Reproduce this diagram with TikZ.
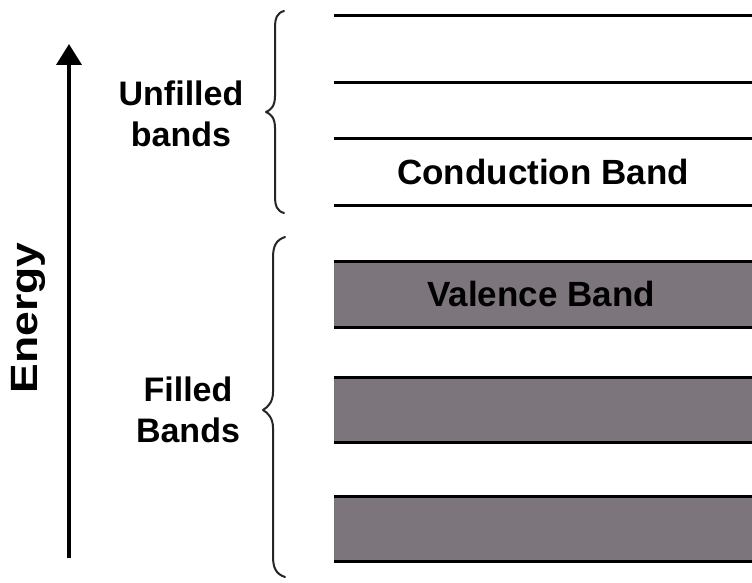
\documentclass[tikz,border=0pt]{standalone}
\usepackage{fontspec}
\setmainfont{Liberation Sans}
\usetikzlibrary{arrows.meta}
\definecolor{bandgray}{RGB}{124,117,124}
\tikzset{
  level/.style={line width=3pt, black},
  filledband/.style={fill=bandgray, draw=none},
  bandedge/.style={line width=3pt, black},
  sidelabel/.style={font=\bfseries\fontsize{34}{41}\selectfont, align=center, inner sep=0pt},
  bandlabel/.style={font=\bfseries\fontsize{35}{40}\selectfont, inner sep=0pt},
  bracestyle/.style={line width=2pt, black!85, line cap=round, line join=round},
}
\begin{document}
\begin{tikzpicture}[x=1pt, y=-1pt]
  \useasboundingbox (0,0) rectangle (752,583);
  \fill[white] (0,0) rectangle (752,583);

  % energy axis
  \coordinate (axbot) at (69,558);
  \coordinate (axtop) at (69,44);
  \draw[line width=4pt, -{Triangle[length=21pt, width=25pt]}] (axbot) -- (axtop);
  \node[font=\bfseries\fontsize{38}{42}\selectfont, rotate=90, xscale=1.17, inner sep=0pt] (energy) at (28,318) {Energy};

  % unfilled levels
  \coordinate (l1a) at (334,16);  \coordinate (l1b) at (752,16);
  \coordinate (l2a) at (334,83);  \coordinate (l2b) at (752,83);
  \coordinate (l3a) at (334,139); \coordinate (l3b) at (752,139);
  \coordinate (l4a) at (334,205); \coordinate (l4b) at (752,205);
  \draw[level] (l1a) -- (l1b);
  \draw[level] (l2a) -- (l2b);
  \draw[level] (l3a) -- (l3b);
  \draw[level] (l4a) -- (l4b);
  \node[bandlabel] (cb) at (543,172) {Conduction Band};

  % filled bands
  \foreach \t/\b/\n in {261/327/vb, 377/442/fb2, 496/561/fb3}{
    \fill[filledband] (334,\t) rectangle (752,\b);
    \draw[line width=1pt, black!55] (334.5,\t) -- (334.5,\b);
    \draw[bandedge] (334,\t) -- (752,\t);
    \draw[bandedge] (334,\b) -- (752,\b);
  }
  \node[bandlabel] (vbl) at (541,294) {Valence Band};

  % group labels
  \node[sidelabel] (unf) at (181,114) {Unfilled\\bands};
  \node[sidelabel] (fil) at (188,410) {Filled\\Bands};

  % braces
  \draw[bracestyle] (284,11) .. controls (277,13) and (275,18) .. (275,28)
    -- (275,96) .. controls (275,106) and (271,110) .. (266,112)
    .. controls (271,114) and (275,118) .. (275,128)
    -- (275,196) .. controls (275,206) and (277,211) .. (284,213);
  \draw[bracestyle] (285,237) .. controls (276,240) and (273,246) .. (273,258)
    -- (273,392) .. controls (273,402) and (268,407) .. (263,410)
    .. controls (268,413) and (273,418) .. (273,428)
    -- (273,556) .. controls (273,568) and (276,574) .. (285,577);
\end{tikzpicture}
\end{document}
